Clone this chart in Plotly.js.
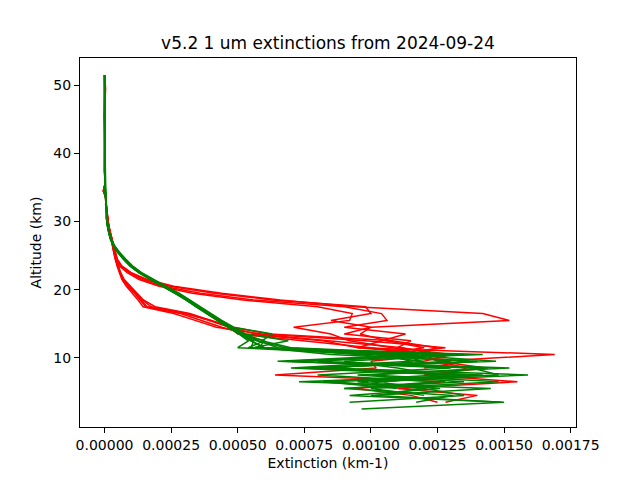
<!DOCTYPE html>
<html>
<head>
<meta charset="utf-8">
<script src="https://cdn.plot.ly/plotly-3.0.1.min.js"></script>
<style>html,body{margin:0;padding:0;background:#fff;}#chart{width:640px;height:480px;}</style>
</head>
<body>
<div id="chart"></div>
<script>
// Altitude grid (km), shared by all profiles (each profile uses the first N levels)
const altitudes = [51.5, 49.5, 47.5, 45.5, 43.5, 41.5, 39.5, 37.5, 35.5, 34.5, 33.5, 32.5, 31.5,
  30.5, 29.5, 28.5, 27.5, 26.5, 25.5, 24.5, 23.5, 22.5, 21.5, 20.5, 19.5, 18.5, 17.5, 16.5,
  15.5, 14.5, 13.5, 12.5, 11.5, 10.5, 9.5, 8.5, 7.5, 6.5, 5.5, 4.5, 3.5, 2.5];

// Red profiles (extinction, km-1)
const red1 = [2e-6, 1e-6, 3e-6, 0, 1e-6, 0, 1e-6, 0, 2e-6, -3e-6, 5e-6, 6e-6, 8e-6,
  1.1e-5, 1.4e-5, 1.9e-5, 2.6e-5, 3.0e-5, 3.5e-5, 4.1e-5, 4.8e-5, 5.7e-5, 6.8e-5, 8.8e-5, 1.12e-4, 1.34e-4, 1.55e-4, 2.85e-4,
  3.6e-4, 4.4e-4, 5.3e-4, 8.2e-4, 9.5e-4, 1.69e-3, 1.25e-3, 1.43e-3, 1.2e-3, 1.55e-3, 1.1e-3, 1.4e-3, 1.28e-3];
const red2 = [1e-6, 4e-6, 2e-6, 1e-6, 0, 1e-6, 0, 1e-6, 3e-6, -5e-6, 7e-6, 4e-6, 9e-6,
  1.2e-5, 1.5e-5, 2.0e-5, 2.7e-5, 3.1e-5, 3.6e-5, 4.3e-5, 5.0e-5, 5.9e-5, 7.0e-5, 9.2e-5, 1.18e-4, 1.42e-4, 1.75e-4, 3.1e-4,
  3.9e-4, 4.7e-4, 5.7e-4, 8.6e-4, 1.12e-3, 1.25e-3, 1.0e-3, 1.02e-3, 6.4e-4, 1.28e-3, 9.4e-4, 1.15e-3, 1.25e-3];
const red3 = [0, 2e-6, 1e-6, 0, 2e-6, 1e-6, 0, 0, 2e-6, -2e-6, 4e-6, 5e-6, 7e-6,
  1.0e-5, 1.3e-5, 1.8e-5, 2.4e-5, 2.9e-5, 3.4e-5, 4.0e-5, 4.7e-5, 5.5e-5, 6.5e-5, 8.2e-5, 1.05e-4, 1.26e-4, 1.45e-4, 2.6e-4,
  3.4e-4, 4.2e-4, 5.9e-4, 9.8e-4, 1.28e-3, 1.05e-3, 1.36e-3, 1.2e-3];
const red4 = [1e-6, 2e-6, 0, 1e-6, 0, 0, 1e-6, 1e-6, 1e-6, -4e-6, 6e-6, 7e-6, 9e-6,
  1.2e-5, 1.5e-5, 2.1e-5, 2.8e-5, 3.2e-5, 3.7e-5, 4.4e-5, 5.2e-5, 6.1e-5, 7.4e-5, 9.8e-5, 1.24e-4, 1.46e-4, 1.9e-4, 3.2e-4,
  4.0e-4, 4.7e-4, 5.0e-4, 7.6e-4, 1.0e-3, 1.23e-3, 1.15e-3];
const red5 = [2e-6, 1e-6, 1e-6, 0, 1e-6, 1e-6, 0, 1e-6, 2e-6, -3e-6, 5e-6, 5e-6, 8e-6,
  1.1e-5, 1.4e-5, 1.9e-5, 2.5e-5, 3.0e-5, 3.6e-5, 4.2e-5, 4.9e-5, 5.8e-5, 6.9e-5, 9.0e-5, 1.14e-4, 1.36e-4, 1.6e-4, 3.0e-4,
  4.0e-4, 4.8e-4, 6.2e-4, 1.08e-3, 1.25e-3, 1.15e-3];
const red6 = [1e-6, 3e-6, 1e-6, 1e-6, 0, 1e-6, 0, 1e-6, 2e-6, -2e-6, 6e-6, 6e-6, 9e-6,
  1.2e-5, 1.6e-5, 2.1e-5, 2.8e-5, 3.4e-5, 4.0e-5, 4.8e-5, 6.5e-5, 1.0e-4, 1.6e-4, 2.6e-4, 4.4e-4, 6.6e-4, 9.4e-4, 1.42e-3,
  1.52e-3, 1.0e-3, 9.6e-4, 1.06e-3, 1.2e-3, 1.02e-3];
const red7 = [0, 2e-6, 2e-6, 0, 1e-6, 0, 1e-6, 0, 3e-6, -4e-6, 5e-6, 6e-6, 8e-6,
  1.1e-5, 1.5e-5, 2.0e-5, 2.7e-5, 3.3e-5, 3.9e-5, 4.6e-5, 6.0e-5, 9.2e-5, 1.4e-4, 2.2e-4, 3.6e-4, 5.6e-4, 9.0e-4, 1.04e-3,
  1.06e-3, 9.0e-4, 1.13e-3, 1.04e-3, 9.5e-4, 1.25e-3];
const red8 = [1e-6, 1e-6, 0, 1e-6, 1e-6, 0, 0, 1e-6, 2e-6, -3e-6, 4e-6, 5e-6, 7e-6,
  1.0e-5, 1.4e-5, 1.9e-5, 2.6e-5, 3.2e-5, 3.8e-5, 4.5e-5, 5.5e-5, 8.5e-5, 1.3e-4, 2.05e-4, 3.3e-4, 5.2e-4, 8.0e-4, 9.3e-4,
  9.2e-4, 7.1e-4, 8.5e-4, 9.2e-4, 1.08e-3, 1.2e-3, 1.25e-3, 1.36e-3, 1.25e-3];
const red9 = [2e-6, 2e-6, 1e-6, 0, 0, 1e-6, 1e-6, 0, 2e-6, -4e-6, 6e-6, 5e-6, 8e-6,
  1.2e-5, 1.5e-5, 2.1e-5, 2.8e-5, 3.3e-5, 4.0e-5, 4.7e-5, 6.2e-5, 9.8e-5, 1.52e-4, 2.45e-4, 4.1e-4, 6.3e-4, 9.8e-4, 1.0e-3,
  8.5e-4, 1.0e-3, 9.0e-4, 1.15e-3, 1.1e-3, 1.3e-3, 1.2e-3];

// Green profiles
const green1 = [0, 1e-6, 0, 1e-6, 0, 1e-6, 0, 1e-6, 2e-6, 3e-6, 4e-6, 6e-6, 7e-6,
  7e-6, 1.0e-5, 1.5e-5, 2.2e-5, 3.4e-5, 5.1e-5, 7.3e-5, 9.8e-5, 1.3e-4, 1.74e-4, 2.2e-4, 2.68e-4, 3.08e-4, 3.46e-4, 3.84e-4,
  4.26e-4, 4.66e-4, 5.1e-4, 5.6e-4, 5.5e-4, 1.42e-3, 7.0e-4, 1.3e-3, 8.0e-4, 1.25e-3, 9.0e-4];
const green2 = [1e-6, 0, 1e-6, 0, 1e-6, 0, 1e-6, 1e-6, 2e-6, 2e-6, 4e-6, 5e-6, 8e-6,
  8e-6, 1.1e-5, 1.6e-5, 2.4e-5, 3.6e-5, 5.4e-5, 7.7e-5, 1.02e-4, 1.36e-4, 1.8e-4, 2.28e-4, 2.75e-4, 3.15e-4, 3.53e-4, 3.9e-4,
  4.32e-4, 4.72e-4, 5.2e-4, 5.8e-4, 6.5e-4, 1.1e-3, 1.47e-3, 7.5e-4, 1.4e-3, 7.3e-4, 1.45e-3, 1.0e-3];
const green3 = [0, 0, 1e-6, 1e-6, 0, 0, 1e-6, 0, 1e-6, 3e-6, 5e-6, 6e-6, 8e-6,
  9e-6, 1.2e-5, 1.7e-5, 2.3e-5, 3.5e-5, 5.3e-5, 7.5e-5, 1.0e-4, 1.34e-4, 1.78e-4, 2.25e-4, 2.72e-4, 3.12e-4, 3.5e-4, 3.88e-4,
  4.3e-4, 4.7e-4, 5.15e-4, 6.0e-4, 5.4e-4, 1.25e-3, 8.0e-4, 1.52e-3, 9.5e-4, 1.35e-3, 9.0e-4, 1.31e-3, 1.17e-3];
const green4 = [1e-6, 1e-6, 0, 0, 1e-6, 1e-6, 0, 1e-6, 2e-6, 3e-6, 4e-6, 7e-6, 9e-6,
  8e-6, 1.1e-5, 1.6e-5, 2.2e-5, 3.3e-5, 5.0e-5, 7.2e-5, 9.7e-5, 1.3e-4, 1.75e-4, 2.22e-4, 2.7e-4, 3.1e-4, 3.48e-4, 3.86e-4,
  4.28e-4, 4.68e-4, 5.1e-4, 5.5e-4, 6.0e-4, 9.5e-4, 1.2e-3, 8.5e-4, 1.59e-3, 1.0e-3, 1.26e-3, 9.2e-4, 1.5e-3, 9.65e-4];
const green5 = [0, 1e-6, 1e-6, 0, 0, 1e-6, 1e-6, 0, 2e-6, 2e-6, 4e-6, 6e-6, 8e-6,
  9e-6, 1.2e-5, 1.7e-5, 2.5e-5, 3.7e-5, 5.6e-5, 7.9e-5, 1.05e-4, 1.39e-4, 1.84e-4, 2.32e-4, 2.8e-4, 3.2e-4, 3.6e-4, 3.98e-4,
  4.4e-4, 4.85e-4, 6.3e-4, 5.9e-4, 7.0e-4, 1.3e-3, 6.8e-4, 1.44e-3, 1.0e-3, 1.48e-3, 1.0e-3, 1.2e-3];
const green6 = [1e-6, 0, 0, 1e-6, 1e-6, 0, 0, 1e-6, 1e-6, 3e-6, 5e-6, 6e-6, 7e-6,
  7e-6, 1.0e-5, 1.5e-5, 2.1e-5, 3.2e-5, 4.9e-5, 7.0e-5, 9.5e-5, 1.28e-4, 1.72e-4, 2.18e-4, 2.65e-4, 3.05e-4, 3.43e-4, 3.8e-4,
  4.22e-4, 4.62e-4, 5.05e-4, 5.4e-4, 5.0e-4, 1.0e-3, 1.3e-3, 8.0e-4, 1.35e-3, 1.05e-3];
const green7 = [0, 1e-6, 0, 0, 1e-6, 0, 1e-6, 1e-6, 2e-6, 3e-6, 4e-6, 5e-6, 8e-6,
  8e-6, 1.1e-5, 1.6e-5, 2.3e-5, 3.5e-5, 5.2e-5, 7.4e-5, 9.9e-5, 1.32e-4, 1.77e-4, 2.24e-4, 2.71e-4, 3.11e-4, 3.5e-4, 3.9e-4,
  4.33e-4, 4.75e-4, 5.2e-4, 5.7e-4, 6.8e-4, 1.18e-3, 6.5e-4, 1.38e-3, 1.48e-3, 8.5e-4, 1.2e-3, 1.35e-3, 9.2e-4];
const green8 = [1e-6, 0, 1e-6, 1e-6, 0, 1e-6, 0, 0, 2e-6, 2e-6, 5e-6, 6e-6, 9e-6,
  9e-6, 1.2e-5, 1.7e-5, 2.4e-5, 3.6e-5, 5.5e-5, 7.8e-5, 1.03e-4, 1.37e-4, 1.82e-4, 2.3e-4, 2.77e-4, 3.17e-4, 3.56e-4, 3.95e-4,
  4.37e-4, 4.8e-4, 5.3e-4, 6.9e-4, 5.6e-4, 1.35e-3, 9.0e-4, 1.1e-3, 1.25e-3, 8.2e-4, 1.1e-3];
const green9 = [0, 0, 1e-6, 0, 1e-6, 1e-6, 0, 1e-6, 1e-6, 3e-6, 4e-6, 6e-6, 7e-6,
  7e-6, 1.0e-5, 1.5e-5, 2.2e-5, 3.3e-5, 5.0e-5, 7.1e-5, 9.6e-5, 1.29e-4, 1.73e-4, 2.2e-4, 2.66e-4, 3.06e-4, 3.44e-4, 3.82e-4,
  4.24e-4, 4.64e-4, 5.05e-4, 5.5e-4, 6.0e-4, 8.5e-4, 1.4e-3, 7.5e-4, 1.42e-3, 9.5e-4, 1.2e-3, 1.02e-3, 1.49e-3];
const green10 = [1e-6, 1e-6, 0, 1e-6, 0, 0, 1e-6, 0, 2e-6, 3e-6, 5e-6, 7e-6, 8e-6,
  8e-6, 1.1e-5, 1.6e-5, 2.3e-5, 3.4e-5, 5.2e-5, 7.4e-5, 1.0e-4, 1.33e-4, 1.78e-4, 2.25e-4, 2.72e-4, 3.12e-4, 3.5e-4, 3.88e-4,
  4.3e-4, 4.7e-4, 5.15e-4, 6.0e-4, 5.8e-4, 1.05e-3, 1.15e-3, 7.0e-4, 1.3e-3, 1.05e-3];

const redProfiles = [red1, red2, red3, red4, red5, red6, red7, red8, red9];
const greenProfiles = [green1, green2, green3, green4, green5, green6, green7, green8, green9, green10];

const xTickVals = [0, 0.00025, 0.0005, 0.00075, 0.001, 0.00125, 0.0015, 0.00175];
const xTickText = ['0.00000', '0.00025', '0.00050', '0.00075', '0.00100', '0.00125', '0.00150', '0.00175'];
const yTickVals = [10, 20, 30, 40, 50];
const yTickText = ['10', '20', '30', '40', '50'];

function makeTrace(vals, color) {
  return {
    x: vals,
    y: altitudes.slice(0, vals.length),
    type: 'scatter',
    mode: 'lines',
    line: {color: color, width: 1.5},
    hoverinfo: 'skip',
    showlegend: false
  };
}

const traces = [];
redProfiles.forEach(p => traces.push(makeTrace(p, '#ff0000')));
greenProfiles.forEach(p => traces.push(makeTrace(p, '#008000')));

const font = {family: 'DejaVu Sans', size: 14, color: '#000'};

const layout = {
  width: 640,
  height: 480,
  margin: {l: 80, r: 64, t: 58, b: 53, pad: 0},
  paper_bgcolor: '#fff',
  plot_bgcolor: '#fff',
  font: font,
  showlegend: false,
  title: {
    text: 'v5.2 1 um extinctions from 2024-09-24',
    font: {family: 'DejaVu Sans', size: 17, color: '#000'},
    x: 0.5, xref: 'paper', xanchor: 'center',
    y: 0.91, yref: 'container', yanchor: 'middle'
  },
  xaxis: {
    range: [-0.000092, 0.00177],
    tickmode: 'array', tickvals: xTickVals, ticktext: xTickText,
    ticks: 'outside', ticklen: 5, tickwidth: 1, tickcolor: '#000',
    showline: true, linecolor: '#000', linewidth: 1, mirror: true,
    showgrid: false, zeroline: false,
    tickfont: font,
    title: {text: 'Extinction (km-1)', font: font, standoff: 6}
  },
  yaxis: {
    range: [-0.14, 54.0],
    tickmode: 'array', tickvals: yTickVals, ticktext: yTickText,
    ticks: 'outside', ticklen: 5, tickwidth: 1, tickcolor: '#000',
    showline: true, linecolor: '#000', linewidth: 1, mirror: true,
    showgrid: false, zeroline: false,
    tickfont: font,
    title: {text: 'Altitude (km)', font: font, standoff: 8}
  },
  hovermode: false
};

Plotly.newPlot('chart', traces, layout, {displayModeBar: false, staticPlot: true});
</script>
</body>
</html>
